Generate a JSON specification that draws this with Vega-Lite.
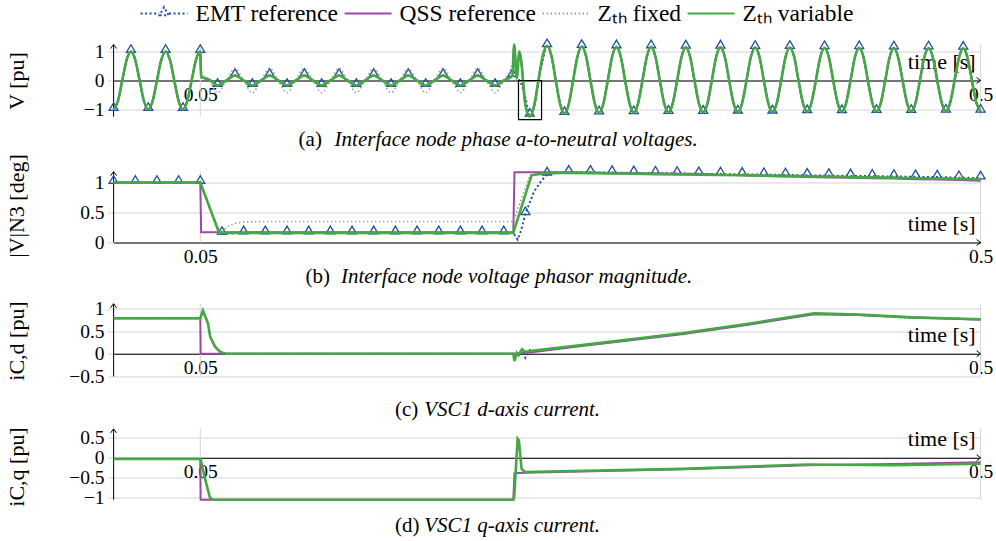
{
"$schema":"https://vega.github.io/schema/vega-lite/v6.json",
"padding":{"left":4.6,"top":-11.5,"right":4,"bottom":3},
"config":{"font":"Liberation Serif","view":{"stroke":null},
"axis":{"labelFont":"Liberation Serif","labelFontSize":19.5,"labelColor":"#000","titleFont":"Liberation Serif","titleFontSize":22,"titleFontWeight":"normal","titleColor":"#000","gridColor":"#d4d4d4","tickColor":"#d4d4d4","domainColor":"#000"}},
"datasets":{
"pa":[
{"t":0,"e":-1,"q":-1,"f":-1,"v":-1},{"t":0.0025,"e":-0.707,"q":-0.707,"f":-0.707,"v":-0.707},{"t":0.005,"e":0,"q":0,"f":0,"v":0},{"t":0.0075,"e":0.707,"q":0.707,"f":0.707,"v":0.707},
{"t":0.01,"e":1,"q":1,"f":1,"v":1},{"t":0.0125,"e":0.707,"q":0.707,"f":0.707,"v":0.707},{"t":0.015,"e":0,"q":0,"f":0,"v":0},{"t":0.0175,"e":-0.707,"q":-0.707,"f":-0.707,"v":-0.707},
{"t":0.02,"e":-1,"q":-1,"f":-1,"v":-1},{"t":0.0225,"e":-0.707,"q":-0.707,"f":-0.707,"v":-0.707},{"t":0.025,"e":0,"q":0,"f":0,"v":0},{"t":0.0275,"e":0.707,"q":0.707,"f":0.707,"v":0.707},
{"t":0.03,"e":1,"q":1,"f":1,"v":1},{"t":0.0325,"e":0.707,"q":0.707,"f":0.707,"v":0.707},{"t":0.035,"e":0,"q":0,"f":0,"v":0},{"t":0.0375,"e":-0.707,"q":-0.707,"f":-0.707,"v":-0.707},
{"t":0.04,"e":-1,"q":-1,"f":-1,"v":-1},{"t":0.0425,"e":-0.707,"q":-0.707,"f":-0.707,"v":-0.707},{"t":0.045,"e":0,"q":0,"f":0,"v":0},{"t":0.0475,"e":0.707,"q":0.707,"f":0.707,"v":0.707},
{"t":0.05,"e":1,"q":1,"f":1,"v":1},
{"t":0.0505,"e":0.12,"q":0.12,"f":0.3,"v":0.12},{"t":0.055,"e":0.03,"q":0.03,"f":0,"v":0.03},
{"t":0.06,"e":-0.17,"q":-0.17,"f":-0.42,"v":-0.17},{"t":0.065,"e":0,"q":0,"f":0,"v":0},{"t":0.07,"e":0.17,"q":0.17,"f":0.42,"v":0.17},{"t":0.075,"e":0,"q":0,"f":0,"v":0},
{"t":0.08,"e":-0.17,"q":-0.17,"f":-0.42,"v":-0.17},{"t":0.085,"e":0,"q":0,"f":0,"v":0},{"t":0.09,"e":0.17,"q":0.17,"f":0.42,"v":0.17},{"t":0.095,"e":0,"q":0,"f":0,"v":0},
{"t":0.1,"e":-0.17,"q":-0.17,"f":-0.42,"v":-0.17},{"t":0.105,"e":0,"q":0,"f":0,"v":0},{"t":0.11,"e":0.17,"q":0.17,"f":0.42,"v":0.17},{"t":0.115,"e":0,"q":0,"f":0,"v":0},
{"t":0.12,"e":-0.17,"q":-0.17,"f":-0.42,"v":-0.17},{"t":0.125,"e":0,"q":0,"f":0,"v":0},{"t":0.13,"e":0.17,"q":0.17,"f":0.42,"v":0.17},{"t":0.135,"e":0,"q":0,"f":0,"v":0},
{"t":0.14,"e":-0.17,"q":-0.17,"f":-0.42,"v":-0.17},{"t":0.145,"e":0,"q":0,"f":0,"v":0},{"t":0.15,"e":0.17,"q":0.17,"f":0.42,"v":0.17},{"t":0.155,"e":0,"q":0,"f":0,"v":0},
{"t":0.16,"e":-0.17,"q":-0.17,"f":-0.42,"v":-0.17},{"t":0.165,"e":0,"q":0,"f":0,"v":0},{"t":0.17,"e":0.17,"q":0.17,"f":0.42,"v":0.17},{"t":0.175,"e":0,"q":0,"f":0,"v":0},
{"t":0.18,"e":-0.17,"q":-0.17,"f":-0.42,"v":-0.17},{"t":0.185,"e":0,"q":0,"f":0,"v":0},{"t":0.19,"e":0.17,"q":0.17,"f":0.42,"v":0.17},{"t":0.195,"e":0,"q":0,"f":0,"v":0},
{"t":0.2,"e":-0.17,"q":-0.17,"f":-0.42,"v":-0.17},{"t":0.205,"e":0,"q":0,"f":0,"v":0},{"t":0.21,"e":0.17,"q":0.17,"f":0.42,"v":0.17},{"t":0.215,"e":0,"q":0,"f":0,"v":0},
{"t":0.22,"e":-0.17,"q":-0.17,"f":-0.42,"v":-0.17},{"t":0.225,"e":0,"q":0,"f":0,"v":0},
{"t":0.23,"e":0.17,"q":0.17,"f":0.6,"v":0.17},{"t":0.231,"q":1.24,"f":1.24,"v":1.24},{"t":0.2325,"e":0.1,"q":0.07,"f":0.07,"v":0.07},
{"t":0.234,"q":1.0,"f":1.0,"v":1.0},{"t":0.235,"e":-0.1,"q":0.7,"f":0.7,"v":0.7},{"t":0.2375,"e":-0.6,"q":-0.85,"f":-0.85,"v":-0.85},
{"t":0.24,"e":-1.2,"q":-1.24,"f":-1.24,"v":-1.24},{"t":0.2425,"e":-0.9,"q":-0.88,"f":-0.88,"v":-0.88},{"t":0.245,"e":-0.05,"q":0,"f":0,"v":0},{"t":0.2475,"e":0.7,"q":0.85,"f":0.85,"v":0.85},
{"t":0.25,"e":1.2,"q":1.2,"f":1.2,"v":1.2},{"t":0.2525,"e":0.85,"q":0.85,"f":0.85,"v":0.85},{"t":0.255,"e":0,"q":0,"f":0,"v":0},{"t":0.2575,"e":-0.81,"q":-0.81,"f":-0.81,"v":-0.81},
{"t":0.26,"e":-1.14,"q":-1.14,"f":-1.14,"v":-1.14},{"t":0.2625,"e":-0.81,"q":-0.81,"f":-0.81,"v":-0.81},{"t":0.265,"e":0,"q":0,"f":0,"v":0},{"t":0.2675,"e":0.83,"q":0.83,"f":0.83,"v":0.83},
{"t":0.27,"e":1.17,"q":1.17,"f":1.17,"v":1.17},{"t":0.2725,"e":0.83,"q":0.83,"f":0.83,"v":0.83},{"t":0.275,"e":0,"q":0,"f":0,"v":0},{"t":0.2775,"e":-0.79,"q":-0.79,"f":-0.79,"v":-0.79},
{"t":0.28,"e":-1.12,"q":-1.12,"f":-1.12,"v":-1.12},{"t":0.2825,"e":-0.79,"q":-0.79,"f":-0.79,"v":-0.79},{"t":0.285,"e":0,"q":0,"f":0,"v":0},{"t":0.2875,"e":0.82,"q":0.82,"f":0.82,"v":0.82},
{"t":0.29,"e":1.16,"q":1.16,"f":1.16,"v":1.16},{"t":0.2925,"e":0.82,"q":0.82,"f":0.82,"v":0.82},{"t":0.295,"e":0,"q":0,"f":0,"v":0},{"t":0.2975,"e":-0.78,"q":-0.78,"f":-0.78,"v":-0.78},
{"t":0.3,"e":-1.11,"q":-1.11,"f":-1.11,"v":-1.11},{"t":0.3025,"e":-0.78,"q":-0.78,"f":-0.78,"v":-0.78},{"t":0.305,"e":0,"q":0,"f":0,"v":0},{"t":0.3075,"e":0.82,"q":0.82,"f":0.82,"v":0.82},
{"t":0.31,"e":1.16,"q":1.16,"f":1.16,"v":1.16},{"t":0.3125,"e":0.82,"q":0.82,"f":0.82,"v":0.82},{"t":0.315,"e":0,"q":0,"f":0,"v":0},{"t":0.3175,"e":-0.78,"q":-0.78,"f":-0.78,"v":-0.78},
{"t":0.32,"e":-1.1,"q":-1.1,"f":-1.1,"v":-1.1},{"t":0.3225,"e":-0.78,"q":-0.78,"f":-0.78,"v":-0.78},{"t":0.325,"e":0,"q":0,"f":0,"v":0},{"t":0.3275,"e":0.81,"q":0.81,"f":0.81,"v":0.81},
{"t":0.33,"e":1.15,"q":1.15,"f":1.15,"v":1.15},{"t":0.3325,"e":0.81,"q":0.81,"f":0.81,"v":0.81},{"t":0.335,"e":0,"q":0,"f":0,"v":0},{"t":0.3375,"e":-0.78,"q":-0.78,"f":-0.78,"v":-0.78},
{"t":0.34,"e":-1.1,"q":-1.1,"f":-1.1,"v":-1.1},{"t":0.3425,"e":-0.78,"q":-0.78,"f":-0.78,"v":-0.78},{"t":0.345,"e":0,"q":0,"f":0,"v":0},{"t":0.3475,"e":0.81,"q":0.81,"f":0.81,"v":0.81},
{"t":0.35,"e":1.15,"q":1.15,"f":1.15,"v":1.15},{"t":0.3525,"e":0.81,"q":0.81,"f":0.81,"v":0.81},{"t":0.355,"e":0,"q":0,"f":0,"v":0},{"t":0.3575,"e":-0.77,"q":-0.77,"f":-0.77,"v":-0.77},
{"t":0.36,"e":-1.09,"q":-1.09,"f":-1.09,"v":-1.09},{"t":0.3625,"e":-0.77,"q":-0.77,"f":-0.77,"v":-0.77},{"t":0.365,"e":0,"q":0,"f":0,"v":0},{"t":0.3675,"e":0.81,"q":0.81,"f":0.81,"v":0.81},
{"t":0.37,"e":1.14,"q":1.14,"f":1.14,"v":1.14},{"t":0.3725,"e":0.81,"q":0.81,"f":0.81,"v":0.81},{"t":0.375,"e":0,"q":0,"f":0,"v":0},{"t":0.3775,"e":-0.77,"q":-0.77,"f":-0.77,"v":-0.77},
{"t":0.38,"e":-1.09,"q":-1.09,"f":-1.09,"v":-1.09},{"t":0.3825,"e":-0.77,"q":-0.77,"f":-0.77,"v":-0.77},{"t":0.385,"e":0,"q":0,"f":0,"v":0},{"t":0.3875,"e":0.81,"q":0.81,"f":0.81,"v":0.81},
{"t":0.39,"e":1.14,"q":1.14,"f":1.14,"v":1.14},{"t":0.3925,"e":0.81,"q":0.81,"f":0.81,"v":0.81},{"t":0.395,"e":0,"q":0,"f":0,"v":0},{"t":0.3975,"e":-0.76,"q":-0.76,"f":-0.76,"v":-0.76},
{"t":0.4,"e":-1.08,"q":-1.08,"f":-1.08,"v":-1.08},{"t":0.4025,"e":-0.76,"q":-0.76,"f":-0.76,"v":-0.76},{"t":0.405,"e":0,"q":0,"f":0,"v":0},{"t":0.4075,"e":0.8,"q":0.8,"f":0.8,"v":0.8},
{"t":0.41,"e":1.13,"q":1.13,"f":1.13,"v":1.13},{"t":0.4125,"e":0.8,"q":0.8,"f":0.8,"v":0.8},{"t":0.415,"e":0,"q":0,"f":0,"v":0},{"t":0.4175,"e":-0.76,"q":-0.76,"f":-0.76,"v":-0.76},
{"t":0.42,"e":-1.08,"q":-1.08,"f":-1.08,"v":-1.08},{"t":0.4225,"e":-0.76,"q":-0.76,"f":-0.76,"v":-0.76},{"t":0.425,"e":0,"q":0,"f":0,"v":0},{"t":0.4275,"e":0.8,"q":0.8,"f":0.8,"v":0.8},
{"t":0.43,"e":1.13,"q":1.13,"f":1.13,"v":1.13},{"t":0.4325,"e":0.8,"q":0.8,"f":0.8,"v":0.8},{"t":0.435,"e":0,"q":0,"f":0,"v":0},{"t":0.4375,"e":-0.76,"q":-0.76,"f":-0.76,"v":-0.76},
{"t":0.44,"e":-1.07,"q":-1.07,"f":-1.07,"v":-1.07},{"t":0.4425,"e":-0.76,"q":-0.76,"f":-0.76,"v":-0.76},{"t":0.445,"e":0,"q":0,"f":0,"v":0},{"t":0.4475,"e":0.79,"q":0.79,"f":0.79,"v":0.79},
{"t":0.45,"e":1.12,"q":1.12,"f":1.12,"v":1.12},{"t":0.4525,"e":0.79,"q":0.79,"f":0.79,"v":0.79},{"t":0.455,"e":0,"q":0,"f":0,"v":0},{"t":0.4575,"e":-0.76,"q":-0.76,"f":-0.76,"v":-0.76},
{"t":0.46,"e":-1.07,"q":-1.07,"f":-1.07,"v":-1.07},{"t":0.4625,"e":-0.76,"q":-0.76,"f":-0.76,"v":-0.76},{"t":0.465,"e":0,"q":0,"f":0,"v":0},{"t":0.4675,"e":0.79,"q":0.79,"f":0.79,"v":0.79},
{"t":0.47,"e":1.12,"q":1.12,"f":1.12,"v":1.12},{"t":0.4725,"e":0.79,"q":0.79,"f":0.79,"v":0.79},{"t":0.475,"e":0,"q":0,"f":0,"v":0},{"t":0.4775,"e":-0.75,"q":-0.75,"f":-0.75,"v":-0.75},
{"t":0.48,"e":-1.06,"q":-1.06,"f":-1.06,"v":-1.06},{"t":0.4825,"e":-0.75,"q":-0.75,"f":-0.75,"v":-0.75},{"t":0.485,"e":0,"q":0,"f":0,"v":0},{"t":0.4875,"e":0.78,"q":0.78,"f":0.78,"v":0.78},
{"t":0.49,"e":1.11,"q":1.11,"f":1.11,"v":1.11},{"t":0.4925,"e":0.78,"q":0.78,"f":0.78,"v":0.78},{"t":0.495,"e":0,"q":0,"f":0,"v":0},{"t":0.4975,"e":-0.75,"q":-0.75,"f":-0.75,"v":-0.75},
{"t":0.5,"e":-1.06,"q":-1.06,"f":-1.06,"v":-1.06}
],
"pb":[
{"t":0,"e":1,"q":1,"f":1,"v":1},{"t":0.0125,"e":1,"q":1,"f":1,"v":1},{"t":0.025,"e":1,"q":1,"f":1,"v":1},{"t":0.0375,"e":1,"q":1,"f":1,"v":1},{"t":0.05,"e":1,"q":1,"f":1,"v":1},
{"t":0.0505,"q":0.17},{"t":0.061,"e":0.15,"q":0.17,"f":0.15,"v":0.15},{"t":0.0625,"e":0.15,"q":0.17,"f":0.19,"v":0.16},{"t":0.066,"f":0.27},{"t":0.07,"f":0.32},
{"t":0.075,"e":0.16,"q":0.17,"f":0.34,"v":0.16},{"t":0.0875,"e":0.16,"q":0.17,"f":0.35,"v":0.16},{"t":0.1,"e":0.16,"q":0.17,"f":0.35,"v":0.16},{"t":0.1125,"e":0.16,"q":0.17,"f":0.35,"v":0.16},
{"t":0.125,"e":0.16,"q":0.17,"f":0.35,"v":0.16},{"t":0.1375,"e":0.16,"q":0.17,"f":0.35,"v":0.16},{"t":0.15,"e":0.16,"q":0.17,"f":0.35,"v":0.16},{"t":0.1625,"e":0.16,"q":0.17,"f":0.35,"v":0.16},
{"t":0.175,"e":0.16,"q":0.17,"f":0.35,"v":0.16},{"t":0.1875,"e":0.16,"q":0.17,"f":0.35,"v":0.16},{"t":0.2,"e":0.16,"q":0.17,"f":0.35,"v":0.16},{"t":0.2125,"e":0.16,"q":0.17,"f":0.35,"v":0.16},
{"t":0.225,"e":0.16,"q":0.17,"f":0.35,"v":0.16},{"t":0.2305,"e":0.16,"q":0.17,"f":0.35,"v":0.16},{"t":0.2312,"q":1.17},{"t":0.233,"e":0.05},{"t":0.235,"e":0.2},
{"t":0.2375,"e":0.48},{"t":0.24,"f":1.12},{"t":0.241,"v":1.12},{"t":0.2425,"e":0.85},{"t":0.2465,"e":1.02},
{"t":0.25,"e":1.14,"q":1.17,"f":1.16,"v":1.16},{"t":0.2625,"e":1.17,"q":1.17,"f":1.16,"v":1.16},{"t":0.275,"e":1.17,"q":1.165,"f":1.155,"v":1.155},{"t":0.2875,"e":1.165,"q":1.16,"f":1.15,"v":1.15},
{"t":0.3,"e":1.16,"q":1.155,"f":1.145,"v":1.145},{"t":0.3125,"e":1.155,"q":1.15,"f":1.14,"v":1.14},{"t":0.325,"e":1.15,"q":1.145,"f":1.135,"v":1.135},{"t":0.3375,"e":1.145,"q":1.14,"f":1.13,"v":1.13},
{"t":0.35,"e":1.14,"q":1.13,"f":1.125,"v":1.125},{"t":0.3625,"e":1.135,"q":1.12,"f":1.12,"v":1.12},{"t":0.375,"e":1.13,"q":1.11,"f":1.115,"v":1.115},{"t":0.3875,"e":1.125,"q":1.1,"f":1.11,"v":1.11},
{"t":0.4,"e":1.12,"q":1.09,"f":1.105,"v":1.105},{"t":0.4125,"e":1.115,"q":1.085,"f":1.1,"v":1.1},{"t":0.425,"e":1.11,"q":1.08,"f":1.09,"v":1.09},{"t":0.4375,"e":1.105,"q":1.07,"f":1.085,"v":1.085},
{"t":0.45,"e":1.1,"q":1.065,"f":1.08,"v":1.08},{"t":0.4625,"e":1.095,"q":1.055,"f":1.07,"v":1.07},{"t":0.475,"e":1.09,"q":1.05,"f":1.065,"v":1.065},{"t":0.4875,"e":1.08,"q":1.04,"f":1.06,"v":1.06},
{"t":0.5,"e":1.075,"q":1.03,"f":1.05,"v":1.05}
],
"pc":[
{"t":0,"e":0.78,"q":0.78,"v":0.78},{"t":0.05,"e":0.78,"q":0.78,"v":0.78},{"t":0.0502,"q":0},{"t":0.0515,"e":0.95,"v":0.95},{"t":0.0545,"e":0.66,"v":0.66},
{"t":0.0557,"e":0.37,"v":0.37},{"t":0.0586,"e":0.15,"v":0.15},{"t":0.0615,"e":0.04,"v":0.04},{"t":0.065,"e":0,"q":0,"v":0},{"t":0.2305,"e":0,"q":0,"v":0},
{"t":0.2312,"v":-0.16},{"t":0.2315,"e":0,"q":0},{"t":0.2325,"v":0.02},{"t":0.2335,"e":-0.06,"v":-0.03},{"t":0.2355,"e":0.08,"v":0.1},{"t":0.2375,"e":-0.09,"v":0.04},
{"t":0.24,"e":0.08,"q":0.03,"v":0.06},{"t":0.2425,"e":0.06},{"t":0.27,"e":0.18,"q":0.17,"v":0.19},{"t":0.3276,"e":0.44,"q":0.43,"v":0.45},
{"t":0.366,"e":0.65,"q":0.64,"v":0.66},{"t":0.404,"e":0.88,"q":0.87,"v":0.89},{"t":0.43,"e":0.85,"q":0.85,"v":0.86},{"t":0.46,"e":0.79,"q":0.8,"v":0.8},{"t":0.5,"e":0.76,"q":0.75,"v":0.76}
],
"pd":[
{"t":0,"q":-0.03,"v":-0.03},{"t":0.05,"q":-0.03,"v":-0.03},{"t":0.0502,"q":-1.06},{"t":0.0505,"v":-0.1},{"t":0.0525,"v":-0.49},{"t":0.0555,"v":-1.0},
{"t":0.057,"q":-1.06,"v":-1.06},{"t":0.2305,"q":-1.06,"v":-1.06},{"t":0.231,"v":-1.0},{"t":0.2312,"q":-0.39},{"t":0.233,"v":0.48},{"t":0.2337,"v":0.44},
{"t":0.2353,"v":-0.28},{"t":0.2372,"q":-0.38,"v":-0.36},{"t":0.3276,"q":-0.29,"v":-0.28},{"t":0.4,"q":-0.19,"v":-0.17},{"t":0.45,"q":-0.16,"v":-0.19},{"t":0.5,"q":-0.11,"v":-0.15}
]
},
"spacing":52,
"bounds":"flush",
"vconcat":[
{
"width":867,"height":75,
"resolve":{"axis":{"x":"independent","y":"independent"}},
"layer":[
{"data":{"values":[{"t":0.05},{"t":0.5}]},"mark":{"type":"rule","color":"#d4d4d4","strokeWidth":1},
"encoding":{
"x":{"field":"t","type":"quantitative","scale":{"domain":[0,0.5],"nice":false,"zero":false},
"axis":{"orient":"bottom","values":[0.05,0.5],"format":"~g","offset":-39,"domain":true,"ticks":false,"grid":false,"labelPadding":5,"labelFlush":false,"labelOverlap":false,"title":"time [s]","titleX":861.5,"titleY":-12,"titleAlign":"right","titleBaseline":"alphabetic"}},
"y":{"datum":-1.25,"type":"quantitative","scale":{"domain":[-1.345,1.2414],"nice":false,"zero":false},
"axis":{"orient":"left","values":[-1,0,1],"format":"~g","domain":false,"grid":true,"ticks":true,"tickSize":6,"labelPadding":3.5,"title":"V [pu]","titleX":-90.5,"titleY":36,"titleAlign":"center","titleBaseline":"alphabetic"}},
"y2":{"datum":1.24}}},
{"data":{"values":[{"t":0}]},"mark":{"type":"rule","color":"#000","strokeWidth":1},
"encoding":{
"x":{"field":"t","type":"quantitative","axis":{"orient":"bottom","domain":false,"ticks":false,"labels":false,"grid":false,"title":"Interface node phase a-to-neutral voltages.","titleFontStyle":"italic","titleFontSize":21,"titleX":220.5,"titleY":25.5,"titleAlign":"left","titleBaseline":"alphabetic"}},
"y":{"datum":-1.25,"type":"quantitative","axis":null},"y2":{"datum":1.24}}},
{"data":{"values":[{"t":0}]},"mark":{"type":"point","shape":"M-0.75,1L0,0L0.75,1","size":64,"filled":false,"color":"#000","strokeWidth":1,"opacity":1},
"encoding":{
"x":{"field":"t","type":"quantitative","axis":{"orient":"bottom","domain":false,"ticks":false,"labels":false,"grid":false,"title":"(a)","titleFontSize":21,"titleX":184.5,"titleY":25.5,"titleAlign":"left","titleBaseline":"alphabetic"}},
"y":{"datum":1.24,"type":"quantitative","axis":null}}},
{"data":{"values":[{"t":0.5}]},"mark":{"type":"point","shape":"M-1,-0.75L0,0L-1,0.75","size":64,"filled":false,"color":"#000","strokeWidth":1,"opacity":1},
"encoding":{"x":{"field":"t","type":"quantitative","axis":null},"y":{"datum":0,"type":"quantitative","axis":null}}},
{"data":{"name":"pa"},"transform":[{"fold":["e"],"as":["key","value"]},{"filter":"isValid(datum.value)"}],
"mark":{"type":"line","interpolate":"monotone","strokeWidth":2},
"encoding":{"x":{"field":"t","type":"quantitative","axis":null},"y":{"field":"value","type":"quantitative","axis":null},
"color":{"field":"key","type":"nominal","scale":{"domain":["e","q","f","v"],"range":["#1f4e9c","#9b4aa3","#9e9e9e","#44a844"]},
"legend":{"orient":"none","legendX":26,"legendY":-55.5,"direction":"horizontal","columns":4,"title":null,"padding":0,"symbolType":"stroke","symbolSize":2209,"symbolStrokeWidth":2,"labelFont":"Liberation Serif","labelFontSize":23.5,"labelColor":"#000","labelOffset":7,"columnPadding":2,
"labelExpr":"datum.label == 'e' ? 'EMT reference' : datum.label == 'q' ? 'QSS reference' : datum.label == 'f' ? 'Zₜₕ fixed' : 'Zₜₕ variable'",
"encode":{"symbols":{"update":{"shape":{"signal":"datum.value === 'e' ? 'M-1,0H-0.21M0.21,0H1M-0.19,0.07L0.19,0.07L0,-0.27Z' : 'stroke'"},"fill":{"value":"transparent"}}}}}},
"strokeDash":{"field":"key","type":"nominal","scale":{"domain":["e","q","f","v"],"range":[[2,2.5],[1,0],[1.5,2.5],[1,0]]}}}},
{"data":{"name":"pa"},"transform":[{"fold":["e"],"as":["key","value"]},{"filter":"isValid(datum.value) && abs(datum.t * 100 - round(datum.t * 100)) < 0.001"}],
"mark":{"type":"point","shape":"M-1,0.2L1,0.2L0,-1.5Z","size":81,"filled":false,"color":"#1f4e9c","strokeWidth":1.3,"opacity":1},
"encoding":{"x":{"field":"t","type":"quantitative","axis":null},"y":{"field":"value","type":"quantitative","axis":null}}},
{"data":{"name":"pa"},"transform":[{"fold":["q"],"as":["key","value"]},{"filter":"isValid(datum.value)"}],
"mark":{"type":"line","interpolate":"monotone","strokeWidth":2,"color":"#9b4aa3"},
"encoding":{"x":{"field":"t","type":"quantitative","axis":null},"y":{"field":"value","type":"quantitative","axis":null}}},
{"data":{"name":"pa"},"transform":[{"fold":["f"],"as":["key","value"]},{"filter":"isValid(datum.value)"}],
"mark":{"type":"line","interpolate":"monotone","strokeWidth":1.6,"color":"#9e9e9e","strokeDash":[1.5,2.5]},
"encoding":{"x":{"field":"t","type":"quantitative","axis":null},"y":{"field":"value","type":"quantitative","axis":null}}},
{"data":{"name":"pa"},"transform":[{"fold":["v"],"as":["key","value"]},{"filter":"isValid(datum.value)"}],
"mark":{"type":"line","interpolate":"monotone","strokeWidth":2.6,"color":"#44a844"},
"encoding":{"x":{"field":"t","type":"quantitative","axis":null},"y":{"field":"value","type":"quantitative","axis":null}}},
{"data":{"values":[{"t0":0.2335,"t1":0.2468,"y0":-1.35,"y1":0}]},"mark":{"type":"rect","fill":null,"stroke":"#000","strokeWidth":1.2},
"encoding":{"x":{"field":"t0","type":"quantitative","axis":null},"x2":{"field":"t1"},"y":{"field":"y0","type":"quantitative","axis":null},"y2":{"field":"y1"}}}
]
},
{
"width":867,"height":80,
"resolve":{"axis":{"x":"independent","y":"independent"}},
"layer":[
{"data":{"values":[{"t":0.05},{"t":0.5}]},"mark":{"type":"rule","color":"#d4d4d4","strokeWidth":1},
"encoding":{
"x":{"field":"t","type":"quantitative","scale":{"domain":[0,0.5],"nice":false,"zero":false},
"axis":{"orient":"bottom","values":[0.05,0.5],"format":"~g","offset":-9,"domain":true,"ticks":false,"grid":false,"labelPadding":5,"labelFlush":false,"labelOverlap":false,"title":"time [s]","titleX":861.5,"titleY":-12,"titleAlign":"right","titleBaseline":"alphabetic"}},
"y":{"datum":0,"type":"quantitative","scale":{"domain":[-0.15,1.1833],"nice":false,"zero":false},
"axis":{"orient":"left","values":[0,0.5,1],"format":"~g","domain":false,"grid":true,"ticks":true,"tickSize":6,"labelPadding":3.5,"title":"|V|N3 [deg]","titleX":-90.5,"titleY":34,"titleAlign":"center","titleBaseline":"alphabetic"}},
"y2":{"datum":1.18}}},
{"data":{"values":[{"t":0}]},"mark":{"type":"rule","color":"#000","strokeWidth":1},
"encoding":{
"x":{"field":"t","type":"quantitative","axis":{"orient":"bottom","domain":false,"ticks":false,"labels":false,"grid":false,"title":"Interface node voltage phasor magnitude.","titleFontStyle":"italic","titleFontSize":21,"titleX":226.8,"titleY":31.5,"titleAlign":"left","titleBaseline":"alphabetic"}},
"y":{"datum":0,"type":"quantitative","axis":null},"y2":{"datum":1.18}}},
{"data":{"values":[{"t":0}]},"mark":{"type":"point","shape":"M-0.75,1L0,0L0.75,1","size":64,"filled":false,"color":"#000","strokeWidth":1,"opacity":1},
"encoding":{
"x":{"field":"t","type":"quantitative","axis":{"orient":"bottom","domain":false,"ticks":false,"labels":false,"grid":false,"title":"(b)","titleFontSize":21,"titleX":191.5,"titleY":31.5,"titleAlign":"left","titleBaseline":"alphabetic"}},
"y":{"datum":1.18,"type":"quantitative","axis":null}}},
{"data":{"values":[{"t":0.5}]},"mark":{"type":"point","shape":"M-1,-0.75L0,0L-1,0.75","size":64,"filled":false,"color":"#000","strokeWidth":1,"opacity":1},
"encoding":{"x":{"field":"t","type":"quantitative","axis":null},"y":{"datum":0,"type":"quantitative","axis":null}}},
{"data":{"name":"pb"},"transform":[{"fold":["e"],"as":["key","value"]},{"filter":"isValid(datum.value)"}],
"mark":{"type":"line","strokeWidth":2,"color":"#1f4e9c","strokeDash":[2,2.5]},
"encoding":{"x":{"field":"t","type":"quantitative","axis":null},"y":{"field":"value","type":"quantitative","axis":null}}},
{"data":{"name":"pb"},"transform":[{"fold":["e"],"as":["key","value"]},{"filter":"isValid(datum.value) && abs(datum.t * 80 - round(datum.t * 80)) < 0.001"}],
"mark":{"type":"point","shape":"M-1,0.2L1,0.2L0,-1.5Z","size":81,"filled":false,"color":"#1f4e9c","strokeWidth":1.3,"opacity":1},
"encoding":{"x":{"field":"t","type":"quantitative","axis":null},"y":{"field":"value","type":"quantitative","axis":null}}},
{"data":{"name":"pb"},"transform":[{"fold":["q"],"as":["key","value"]},{"filter":"isValid(datum.value)"}],
"mark":{"type":"line","strokeWidth":2,"color":"#9b4aa3"},
"encoding":{"x":{"field":"t","type":"quantitative","axis":null},"y":{"field":"value","type":"quantitative","axis":null}}},
{"data":{"name":"pb"},"transform":[{"fold":["f"],"as":["key","value"]},{"filter":"isValid(datum.value)"}],
"mark":{"type":"line","strokeWidth":1.6,"color":"#9e9e9e","strokeDash":[1.5,2.5]},
"encoding":{"x":{"field":"t","type":"quantitative","axis":null},"y":{"field":"value","type":"quantitative","axis":null}}},
{"data":{"name":"pb"},"transform":[{"fold":["v"],"as":["key","value"]},{"filter":"isValid(datum.value)"}],
"mark":{"type":"line","strokeWidth":2.6,"color":"#44a844"},
"encoding":{"x":{"field":"t","type":"quantitative","axis":null},"y":{"field":"value","type":"quantitative","axis":null}}}
]
},
{
"width":867,"height":73,
"resolve":{"axis":{"x":"independent","y":"independent"}},
"layer":[
{"data":{"values":[{"t":0.05},{"t":0.5}]},"mark":{"type":"rule","color":"#d4d4d4","strokeWidth":1},
"encoding":{
"x":{"field":"t","type":"quantitative","scale":{"domain":[0,0.5],"nice":false,"zero":false},
"axis":{"orient":"bottom","values":[0.05,0.5],"format":"~g","offset":-22.74,"domain":true,"ticks":false,"grid":false,"labelPadding":5,"labelFlush":false,"labelOverlap":false,"title":"time [s]","titleX":861.5,"titleY":-12,"titleAlign":"right","titleBaseline":"alphabetic"}},
"y":{"datum":-0.5,"type":"quantitative","scale":{"domain":[-0.5,1.105],"nice":false,"zero":false},
"axis":{"orient":"left","values":[-0.5,0,0.5,1],"format":"~g","domain":false,"grid":true,"ticks":true,"tickSize":6,"labelPadding":3.5,"title":"iC,d [pu]","titleX":-90.5,"titleY":37,"titleAlign":"center","titleBaseline":"alphabetic"}},
"y2":{"datum":1.1}}},
{"data":{"values":[{"t":0}]},"mark":{"type":"rule","color":"#000","strokeWidth":1},
"encoding":{
"x":{"field":"t","type":"quantitative","axis":{"orient":"bottom","domain":false,"ticks":false,"labels":false,"grid":false,"title":"VSC1 d-axis current.","titleFontStyle":"italic","titleFontSize":21,"titleX":310.2,"titleY":38.7,"titleAlign":"left","titleBaseline":"alphabetic"}},
"y":{"datum":-0.5,"type":"quantitative","axis":null},"y2":{"datum":1.1}}},
{"data":{"values":[{"t":0}]},"mark":{"type":"point","shape":"M-0.75,1L0,0L0.75,1","size":64,"filled":false,"color":"#000","strokeWidth":1,"opacity":1},
"encoding":{
"x":{"field":"t","type":"quantitative","axis":{"orient":"bottom","domain":false,"ticks":false,"labels":false,"grid":false,"title":"(c)","titleFontSize":21,"titleX":280.8,"titleY":38.7,"titleAlign":"left","titleBaseline":"alphabetic"}},
"y":{"datum":1.1,"type":"quantitative","axis":null}}},
{"data":{"values":[{"t":0.5}]},"mark":{"type":"point","shape":"M-1,-0.75L0,0L-1,0.75","size":64,"filled":false,"color":"#000","strokeWidth":1,"opacity":1},
"encoding":{"x":{"field":"t","type":"quantitative","axis":null},"y":{"datum":0,"type":"quantitative","axis":null}}},
{"data":{"name":"pc"},"transform":[{"fold":["e"],"as":["key","value"]},{"filter":"isValid(datum.value)"}],
"mark":{"type":"line","strokeWidth":2,"color":"#1f4e9c","strokeDash":[2,2.5]},
"encoding":{"x":{"field":"t","type":"quantitative","axis":null},"y":{"field":"value","type":"quantitative","axis":null}}},
{"data":{"name":"pc"},"transform":[{"fold":["q"],"as":["key","value"]},{"filter":"isValid(datum.value)"}],
"mark":{"type":"line","strokeWidth":2,"color":"#9b4aa3"},
"encoding":{"x":{"field":"t","type":"quantitative","axis":null},"y":{"field":"value","type":"quantitative","axis":null}}},
{"data":{"name":"pc"},"transform":[{"fold":["v"],"as":["key","value"]},{"filter":"isValid(datum.value)"}],
"mark":{"type":"line","strokeWidth":2.6,"color":"#44a844"},
"encoding":{"x":{"field":"t","type":"quantitative","axis":null},"y":{"field":"value","type":"quantitative","axis":null}}}
]
},
{
"width":867,"height":72,
"resolve":{"axis":{"x":"independent","y":"independent"}},
"layer":[
{"data":{"values":[{"t":0.05},{"t":0.5}]},"mark":{"type":"rule","color":"#d4d4d4","strokeWidth":1},
"encoding":{
"x":{"field":"t","type":"quantitative","scale":{"domain":[0,0.5],"nice":false,"zero":false},
"axis":{"orient":"bottom","values":[0.05,0.5],"format":"~g","offset":-42.7,"domain":true,"ticks":false,"grid":false,"labelPadding":5,"labelFlush":false,"labelOverlap":false,"title":"time [s]","titleX":861.5,"titleY":-12,"titleAlign":"right","titleBaseline":"alphabetic"}},
"y":{"datum":-1.06,"type":"quantitative","scale":{"domain":[-1.08,0.74],"nice":false,"zero":false},
"axis":{"orient":"left","values":[-1,-0.5,0,0.5],"format":"~g","domain":false,"grid":true,"ticks":true,"tickSize":6,"labelPadding":3.5,"title":"iC,q [pu]","titleX":-90.5,"titleY":38,"titleAlign":"center","titleBaseline":"alphabetic"}},
"y2":{"datum":0.73}}},
{"data":{"values":[{"t":0}]},"mark":{"type":"rule","color":"#000","strokeWidth":1},
"encoding":{
"x":{"field":"t","type":"quantitative","axis":{"orient":"bottom","domain":false,"ticks":false,"labels":false,"grid":false,"title":"VSC1 q-axis current.","titleFontStyle":"italic","titleFontSize":21,"titleX":310.2,"titleY":31.5,"titleAlign":"left","titleBaseline":"alphabetic"}},
"y":{"datum":-1.06,"type":"quantitative","axis":null},"y2":{"datum":0.73}}},
{"data":{"values":[{"t":0}]},"mark":{"type":"point","shape":"M-0.75,1L0,0L0.75,1","size":64,"filled":false,"color":"#000","strokeWidth":1,"opacity":1},
"encoding":{
"x":{"field":"t","type":"quantitative","axis":{"orient":"bottom","domain":false,"ticks":false,"labels":false,"grid":false,"title":"(d)","titleFontSize":21,"titleX":280.8,"titleY":31.5,"titleAlign":"left","titleBaseline":"alphabetic"}},
"y":{"datum":0.73,"type":"quantitative","axis":null}}},
{"data":{"values":[{"t":0.5}]},"mark":{"type":"point","shape":"M-1,-0.75L0,0L-1,0.75","size":64,"filled":false,"color":"#000","strokeWidth":1,"opacity":1},
"encoding":{"x":{"field":"t","type":"quantitative","axis":null},"y":{"datum":0,"type":"quantitative","axis":null}}},
{"data":{"name":"pd"},"transform":[{"fold":["q"],"as":["key","value"]},{"filter":"isValid(datum.value)"}],
"mark":{"type":"line","strokeWidth":2,"color":"#9b4aa3"},
"encoding":{"x":{"field":"t","type":"quantitative","axis":null},"y":{"field":"value","type":"quantitative","axis":null}}},
{"data":{"name":"pd"},"transform":[{"fold":["v"],"as":["key","value"]},{"filter":"isValid(datum.value)"}],
"mark":{"type":"line","strokeWidth":2.6,"color":"#44a844"},
"encoding":{"x":{"field":"t","type":"quantitative","axis":null},"y":{"field":"value","type":"quantitative","axis":null}}}
]
}
]
}
